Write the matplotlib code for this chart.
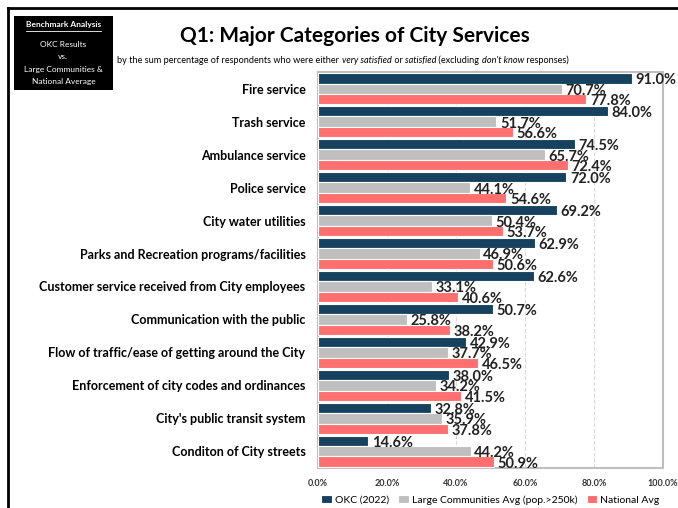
import matplotlib.pyplot as plt
import numpy as np
from matplotlib.patches import Rectangle
from matplotlib.lines import Line2D

plt.rcParams['font.family'] = ['Lato', 'DejaVu Sans']

# Survey services, top to bottom
categories = [
    'Fire service', 'Trash service', 'Ambulance service', 'Police service',
    'City water utilities', 'Parks and Recreation programs/facilities',
    'Customer service received from City employees',
    'Communication with the public',
    'Flow of traffic/ease of getting around the City',
    'Enforcement of city codes and ordinances',
    "City's public transit system", 'Conditon of City streets',
]
okc = [91.0, 84.0, 74.5, 72.0, 69.2, 62.9, 62.6, 50.7, 42.9, 38.0, 32.8, 14.6]
large = [70.7, 51.7, 65.7, 44.1, 50.4, 46.9, 33.1, 25.8, 37.7, 34.2, 35.9, 44.2]
national = [77.8, 56.6, 72.4, 54.6, 53.7, 50.6, 40.6, 38.2, 46.5, 41.5, 37.8, 50.9]
series_names = ['OKC (2022)', 'Large Communities Avg (pop.>250k)', 'National Avg']
colors = ['#17425f', '#bfbfbf', '#ff6f6f']
ticks = [0, 20, 40, 60, 80, 100]

fig = plt.figure(figsize=(6.78, 5.08), dpi=100)
ax = fig.add_axes([0.469, 0.079, 0.509, 0.779])

n = len(categories)
y = np.arange(n)
h = 0.31
for i, (vals, col) in enumerate(zip([okc, large, national], colors)):
    ypos = y + (i - 1) * h
    ax.barh(ypos, vals, height=h, color=col, edgecolor='white', linewidth=0.8,
            label=series_names[i], zorder=3)
    for yy, v in zip(ypos, vals):
        ax.text(v + 1.0, yy + 0.06, f'{v:.1f}%', va='center', ha='left',
                fontsize=10.5, fontweight='bold', color='#222222', zorder=4)

ax.set_ylim(n - 0.5, -0.5)
ax.set_xlim(0, 100)
ax.set_yticks(y)
ax.set_yticklabels(categories, fontsize=9, fontweight='bold')
ax.set_xticks(ticks)
ax.set_xticklabels([f'{t:.1f}%' for t in ticks], fontsize=6.5, fontweight='bold',
                   color='#333333')
ax.tick_params(length=0, pad=8)
ax.tick_params(axis='y', pad=9)
ax.grid(axis='x', color='#d9d9d9', linestyle='--', linewidth=0.8, zorder=0)
for s in ax.spines.values():
    s.set_color('#bfbfbf')
    s.set_linewidth(1.5)

ax.legend(loc='center', bbox_to_anchor=(0.5, -0.081), ncol=3, frameon=False,
          fontsize=7.5, handlelength=1.0, handleheight=0.7, handletextpad=0.3,
          columnspacing=0.9)

# outer frame
fig.add_artist(Line2D([0.012, 1.0], [0.984, 0.984], color='black', lw=2))
fig.add_artist(Line2D([0.012, 0.012], [0.0, 0.984], color='black', lw=2))

# title
fig.text(0.524, 0.93, 'Q1: Major Categories of City Services', ha='center',
         va='center', fontsize=15, fontweight='bold')

# subtitle with italic parts
pieces = [('by the sum percentage of respondents who were either ', 'normal'),
          ('very satisfied', 'italic'), (' or ', 'normal'), ('satisfied', 'italic'),
          (' (excluding ', 'normal'), ("don't know", 'italic'), (' responses)', 'normal')]
renderer = fig.canvas.get_renderer()
x0 = 0.173
for txt, style in pieces:
    t = fig.text(x0, 0.881, txt, ha='left', va='center', fontsize=6.6, style=style)
    bb = t.get_window_extent(renderer=renderer)
    x0 += bb.width / fig.bbox.width

# black info box
fig.add_artist(Rectangle((0.021, 0.823), 0.145, 0.146, transform=fig.transFigure,
                         facecolor='black', edgecolor='none'))
bt = fig.text(0.0935, 0.952, 'Benchmark Analysis', ha='center', va='center',
              fontsize=6, fontweight='bold', color='white')
bb = bt.get_window_extent(renderer=renderer)
fig.add_artist(Line2D([bb.x0 / fig.bbox.width, bb.x1 / fig.bbox.width],
                      [0.938, 0.938], color='white', lw=0.6))
for yy, line in zip([0.912, 0.888, 0.864, 0.840],
                    ['OKC Results', 'vs.', 'Large Communities &', 'National Average']):
    fig.text(0.0935, yy, line, ha='center', va='center', fontsize=6, color='white')

fig.savefig('out.png', dpi=100)
